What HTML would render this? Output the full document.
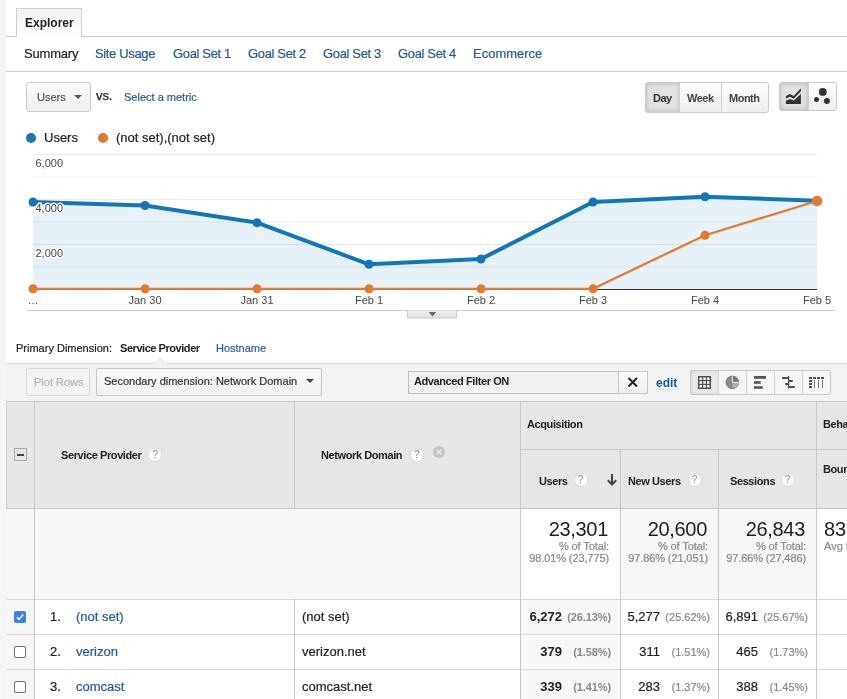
<!DOCTYPE html>
<html><head><meta charset="utf-8">
<style>
*{box-sizing:border-box;margin:0;padding:0}
html,body{width:847px;height:699px;overflow:hidden;background:#fff;-webkit-font-smoothing:antialiased;font-family:"Liberation Sans",sans-serif;color:#222}
.a{position:absolute;white-space:nowrap;-webkit-text-stroke:0.2px currentColor}
.strip{left:0;top:0;width:6px;height:699px;background:#f4f5f7}
.lnk{color:#1d5a9c}
.hl{height:1px;background:#cacaca}
.btn{border:1px solid #c8c8c8;border-radius:2px;background:#f7f7f7}
.q{position:absolute;width:14px;height:14px;border-radius:50%;background:#fff;border:1px solid #dadada;color:#8a8a8a;font-size:10px;line-height:12px;text-align:center}
</style></head><body>
<div style="position:absolute;left:0;top:0;width:847px;height:699px;will-change:transform">
<div class="a strip"></div>

<!-- Explorer tab -->
<div class="a" style="left:16px;top:8px;width:66px;height:29px;border:1px solid #cfcfcf;border-bottom:none;background:linear-gradient(#f2f2f2,#fff)"></div>
<div class="a hl" style="left:6px;top:36px;width:10px"></div>
<div class="a hl" style="left:82px;top:36px;width:765px"></div>
<div class="a" style="left:25px;top:15px;font-size:12px;font-weight:bold;-webkit-text-stroke:0;color:#222;line-height:16px">Explorer</div>

<!-- nav -->
<div class="a" style="left:24px;top:46px;font-size:13px;line-height:16px;color:#222;letter-spacing:-0.2px">Summary</div>
<div class="a lnk" style="left:95px;top:46px;font-size:13px;line-height:16px;letter-spacing:-0.35px">Site Usage</div>
<div class="a lnk" style="left:173px;top:46px;font-size:13px;line-height:16px;letter-spacing:-0.35px">Goal Set 1</div>
<div class="a lnk" style="left:248px;top:46px;font-size:13px;line-height:16px;letter-spacing:-0.35px">Goal Set 2</div>
<div class="a lnk" style="left:323px;top:46px;font-size:13px;line-height:16px;letter-spacing:-0.35px">Goal Set 3</div>
<div class="a lnk" style="left:398px;top:46px;font-size:13px;line-height:16px;letter-spacing:-0.35px">Goal Set 4</div>
<div class="a lnk" style="left:473px;top:46px;font-size:13px;line-height:16px">Ecommerce</div>
<div class="a hl" style="left:6px;top:71px;width:841px"></div>

<!-- metric selector -->
<div class="a btn" style="left:26px;top:82px;width:65px;height:30px;background:linear-gradient(#fbfbfb,#efefef);border-radius:3px;border-color:#cbcbcb"></div>
<div class="a" style="left:37px;top:90px;font-size:11px;line-height:14px;color:#555">Users</div>
<div class="a" style="left:74px;top:95px;width:0;height:0;border-left:4px solid transparent;border-right:4px solid transparent;border-top:4px solid #555"></div>
<div class="a" style="left:96px;top:88px;font-size:13px;line-height:16px;color:#222;-webkit-text-stroke:0.25px #222;letter-spacing:-0.1px">vs.</div>
<div class="a lnk" style="left:124px;top:90px;font-size:11px;line-height:14px">Select a metric</div>

<!-- Day/Week/Month -->
<div class="a btn" style="left:645px;top:82px;width:124px;height:31px;border-radius:3px;background:linear-gradient(#fdfdfd,#efefef)"></div>
<div class="a" style="left:646px;top:83px;width:34px;height:29px;background:#e2e2e2;box-shadow:inset 0 0 5px rgba(0,0,0,.22);border-radius:2px 0 0 2px"></div>
<div class="a" style="left:679px;top:83px;width:1px;height:29px;background:#d0d0d0"></div>
<div class="a" style="left:721px;top:83px;width:1px;height:29px;background:#d0d0d0"></div>
<div class="a" style="left:653px;top:91px;font-size:11px;line-height:14px;font-weight:bold;-webkit-text-stroke:0;color:#333;letter-spacing:-0.5px">Day</div>
<div class="a" style="left:687px;top:91px;font-size:11px;line-height:14px;font-weight:bold;-webkit-text-stroke:0;color:#444;letter-spacing:-0.5px">Week</div>
<div class="a" style="left:729px;top:91px;font-size:11px;line-height:14px;font-weight:bold;-webkit-text-stroke:0;color:#444;letter-spacing:-0.5px">Month</div>

<!-- chart type -->
<div class="a btn" style="left:779px;top:82px;width:58px;height:29px;border-radius:3px;background:linear-gradient(#fdfdfd,#efefef)"></div>
<div class="a" style="left:780px;top:83px;width:28px;height:27px;background:#e2e2e2;box-shadow:inset 0 0 5px rgba(0,0,0,.22);border-radius:2px 0 0 2px"></div>
<div class="a" style="left:808px;top:83px;width:1px;height:27px;background:#d0d0d0"></div>
<svg class="a" style="left:779px;top:82px" width="58" height="29" viewBox="0 0 58 29">
  <path d="M6.9 14 L11 12 L14.7 14 L21.9 6.2 L21.9 9.2 L14.7 16.8 L11 14.7 L6.9 16.6Z" fill="#333"/>
  <path d="M6.9 18.8 L11 17 L14.7 18.6 L21.9 12 L21.9 21.9 L6.9 21.9Z" fill="#333"/>
  <circle cx="43.8" cy="9.9" r="3.9" fill="#333"/>
  <circle cx="37.5" cy="17.5" r="2.5" fill="#333"/>
  <circle cx="47.9" cy="19" r="3" fill="#333"/>
</svg>

<!-- legend -->
<div class="a" style="left:26px;top:132.5px;width:10px;height:10px;border-radius:50%;background:#1077bb"></div>
<div class="a" style="left:44px;top:130px;font-size:13px;line-height:16px;color:#222">Users</div>
<div class="a" style="left:98px;top:132.5px;width:10px;height:10px;border-radius:50%;background:#e8762b"></div>
<div class="a" style="left:116px;top:130px;font-size:13px;line-height:16px;color:#222">(not set),(not set)</div>

<!-- chart -->
<svg class="a" style="left:0;top:140px" width="847" height="190" viewBox="0 140 847 190">

  <path d="M33 202 L145 205.5 L257 222.7 L369 264.3 L481 259 L593 202 L705 196.7 L817 200.8 L817 289.5 L33 289.5Z" fill="#e6f1f8"/>
  <g stroke="#000" stroke-opacity="0.075" stroke-width="1">
    <line x1="33" y1="154.5" x2="817" y2="154.5"/>
    <line x1="33" y1="177" x2="817" y2="177"/>
    <line x1="33" y1="199.5" x2="817" y2="199.5"/>
    <line x1="33" y1="222" x2="817" y2="222"/>
    <line x1="33" y1="244.5" x2="817" y2="244.5"/>
    <line x1="33" y1="267" x2="817" y2="267"/>
  </g>
  <line x1="33" y1="289.5" x2="817" y2="289.5" stroke="#333" stroke-width="1"/>
  <polyline points="33,202 145,205.5 257,222.7 369,264.3 481,259 593,202 705,196.7 817,200.8" fill="none" stroke="#1077bb" stroke-width="4" stroke-linejoin="round"/>
  <g fill="#1077bb">
    <circle cx="33" cy="202" r="4.5"/><circle cx="145" cy="205.5" r="4.5"/><circle cx="257" cy="222.7" r="4.5"/><circle cx="369" cy="264.3" r="4.5"/><circle cx="481" cy="259" r="4.5"/><circle cx="593" cy="202" r="4.5"/><circle cx="705" cy="196.7" r="4.5"/>
  </g>
  <polyline points="33,288.8 145,288.8 257,288.8 369,288.8 481,288.8 593,288.8 705,235.2 817,201" fill="none" stroke="#e8762b" stroke-width="2.2" stroke-linejoin="round"/>
  <g fill="#e8762b">
    <circle cx="33" cy="288.8" r="4.5"/><circle cx="145" cy="288.8" r="4.5"/><circle cx="257" cy="288.8" r="4.5"/><circle cx="369" cy="288.8" r="4.5"/><circle cx="481" cy="288.8" r="4.5"/><circle cx="593" cy="288.8" r="4.5"/><circle cx="705" cy="235.2" r="4.5"/><circle cx="817" cy="201" r="5" stroke="#c07a45" stroke-width="0.6"/>
  </g>
  <g font-family="Liberation Sans" font-size="11" fill="#444" stroke="#fff" stroke-width="3" paint-order="stroke">
    <text x="35.5" y="167">6,000</text>
    <text x="35.5" y="212">4,000</text>
    <text x="35.5" y="257">2,000</text>
  </g>
  <g font-family="Liberation Sans" font-size="11" fill="#444" text-anchor="middle">
    <text x="33" y="304">…</text>
    <text x="145" y="304">Jan 30</text>
    <text x="257" y="304">Jan 31</text>
    <text x="369" y="304">Feb 1</text>
    <text x="481" y="304">Feb 2</text>
    <text x="593" y="304">Feb 3</text>
    <text x="705" y="304">Feb 4</text>
    <text x="817" y="304">Feb 5</text>
  </g>
  <line x1="27" y1="310.5" x2="835" y2="310.5" stroke="#cfcfcf"/>
  <defs><linearGradient id="tg" x1="0" y1="0" x2="0" y2="1"><stop offset="0" stop-color="#f0f0f0"/><stop offset="1" stop-color="#dedede"/></linearGradient></defs><path d="M407.5 310.5 L407.5 318 L456.5 318 L456.5 310.5" fill="url(#tg)" stroke="#c8c8c8"/>
  <path d="M428.7 312 L436.3 312 L432.5 316.5Z" fill="#666"/>
</svg>


<!-- primary dimension -->
<div class="a" style="left:16px;top:341px;font-size:11px;line-height:14px;color:#222">Primary Dimension:</div>
<div class="a" style="left:120px;top:341px;font-size:11px;line-height:14px;color:#222;font-weight:bold;-webkit-text-stroke:0;letter-spacing:-0.45px">Service Provider</div>
<div class="a lnk" style="left:216px;top:341px;font-size:11px;line-height:14px;color:#2a5db0">Hostname</div>

<!-- toolbar -->
<div class="a" style="left:6px;top:363px;width:841px;height:38px;background:#f3f3f3;border-top:1px solid #dcdcdc"></div>
<svg class="a" style="left:150px;top:356px" width="22" height="10" viewBox="0 0 22 10">
  <path d="M0 7.5 L4.8 7.5 L10.3 2 L15.8 7.5 L22 7.5 L22 10 L0 10Z" fill="#f3f3f3"/>
  <path d="M0 7.5 L4.8 7.5 L10.3 2 L15.8 7.5 L22 7.5" fill="none" stroke="#dcdcdc" stroke-width="1"/>
</svg>
<div class="a btn" style="left:26px;top:368px;width:64px;height:28px;background:#f3f3f3;border-color:#dadada"></div>
<div class="a" style="left:34px;top:375px;font-size:11px;line-height:14px;color:#b5b5b5">Plot Rows</div>
<div class="a btn" style="left:96px;top:368px;width:226px;height:28px;background:linear-gradient(#fbfbfb,#f1f1f1);border-color:#c6c6c6"></div>
<div class="a" style="left:104px;top:374px;font-size:11px;line-height:14px;color:#333">Secondary dimension: Network Domain</div>
<div class="a" style="left:306px;top:379px;width:0;height:0;border-left:4px solid transparent;border-right:4px solid transparent;border-top:4px solid #444"></div>

<div class="a" style="left:408px;top:371px;width:211px;height:23px;border:1px solid #bdbdbd;background:#f1f1f1"></div>
<div class="a" style="left:414px;top:374px;font-size:11px;line-height:14px;color:#222;font-weight:bold;-webkit-text-stroke:0;letter-spacing:-0.4px">Advanced Filter ON</div>
<div class="a" style="left:618px;top:371px;width:30px;height:23px;border:1px solid #c6c6c6;background:linear-gradient(#fafafa,#eee)"></div>
<svg class="a" style="left:618px;top:371px" width="30" height="23" viewBox="0 0 30 23"><path d="M10.5 7 L19 15.5 M19 7 L10.5 15.5" stroke="#222" stroke-width="2"/></svg>
<div class="a" style="left:656px;top:376px;font-size:12px;line-height:14px;color:#1a5a9e;font-weight:bold;-webkit-text-stroke:0">edit</div>

<div class="a btn" style="left:690px;top:370px;width:141px;height:25px;background:#f6f6f6"></div>
<div class="a" style="left:691px;top:371px;width:28px;height:23px;background:#e9e9e9;box-shadow:inset 0 0 3px rgba(0,0,0,.15)"></div>
<div class="a" style="left:718px;top:371px;width:1px;height:23px;background:#d2d2d2"></div>
<div class="a" style="left:746px;top:371px;width:1px;height:23px;background:#d2d2d2"></div>
<div class="a" style="left:774px;top:371px;width:1px;height:23px;background:#d2d2d2"></div>
<div class="a" style="left:802px;top:371px;width:1px;height:23px;background:#d2d2d2"></div>
<svg class="a" style="left:690px;top:370px" width="141" height="25" viewBox="0 0 141 25">
  <rect x="8" y="6" width="13" height="13" fill="#505050"/>
  <g fill="#fff">
    <rect x="9.5" y="7.5" width="2.5" height="2.5"/><rect x="13.25" y="7.5" width="2.5" height="2.5"/><rect x="17" y="7.5" width="2.5" height="2.5"/>
    <rect x="9.5" y="11.25" width="2.5" height="2.5"/><rect x="13.25" y="11.25" width="2.5" height="2.5"/><rect x="17" y="11.25" width="2.5" height="2.5"/>
    <rect x="9.5" y="15" width="2.5" height="2.5"/><rect x="13.25" y="15" width="2.5" height="2.5"/><rect x="17" y="15" width="2.5" height="2.5"/>
  </g>
  <circle cx="42.4" cy="12.4" r="6.3" fill="#8a8a8a" stroke="#666" stroke-width="0.8"/>
  <path d="M42.4 6.1 A6.3 6.3 0 0 1 48.7 12.4 L42.4 12.4Z" fill="#767676"/>
  <path d="M48.7 12.4 A6.3 6.3 0 0 1 42.4 18.7 L42.4 12.4Z" fill="#adadad"/>
  <path d="M42.4 6.1 L42.4 12.4 L48.7 12.4" stroke="#f2f2f2" stroke-width="1" fill="none"/>
  <g fill="#555">
    <rect x="64" y="6" width="12" height="2.8"/><rect x="64" y="11.2" width="6.7" height="2.6"/><rect x="64" y="16.2" width="8.8" height="2.6"/>
  </g>
  <g fill="#505050">
    <rect x="98" y="6" width="1.2" height="12.7"/>
    <rect x="92.1" y="7" width="6" height="2"/><rect x="99" y="10" width="3.7" height="2"/><rect x="95.1" y="13" width="3" height="2"/><rect x="99" y="16" width="5.9" height="2"/>
  </g>
  <g fill="#505050">
    <rect x="119" y="7" width="3" height="2"/><rect x="123" y="7" width="3" height="2"/><rect x="127" y="7" width="3" height="2"/><rect x="131" y="7" width="3" height="2"/>
    <rect x="119" y="10" width="3" height="2"/><rect x="119" y="13" width="3" height="2"/><rect x="119" y="16" width="3" height="2"/>
  </g>
  <g fill="#777">
    <rect x="124" y="10" width="1" height="8"/><rect x="128" y="10" width="1" height="8"/><rect x="132" y="10" width="1" height="8"/>
  </g>
</svg>

<!-- table header -->
<div class="a" style="left:6px;top:401px;width:841px;height:108px;background:#e6e6e6;border-top:1px solid #c6c6c6;border-bottom:1px solid #c6c6c6"></div>
<!-- totals row -->
<div class="a" style="left:6px;top:509px;width:841px;height:90px;background:#f7f7f7"></div>
<div class="a" style="left:521px;top:509px;width:99px;height:90px;background:#fff"></div>
<div class="a" style="left:817px;top:509px;width:30px;height:90px;background:#fff"></div>
<!-- data rows -->
<div class="a" style="left:34px;top:599px;width:813px;height:100px;background:#fff"></div>
<div class="a" style="left:521px;top:599px;width:99px;height:100px;background:#f8f8f8"></div>
<div class="a" style="left:6px;top:599px;width:28px;height:100px;background:#f7f7f7"></div>
<div class="a hl" style="left:6px;top:599px;width:841px;background:#d9d9d9"></div>
<div class="a hl" style="left:6px;top:634px;width:841px;background:#d9d9d9"></div>
<div class="a hl" style="left:6px;top:669px;width:841px;background:#d9d9d9"></div>

<!-- vertical lines -->
<div class="a" style="left:6px;top:401px;width:1px;height:108px;background:#cfcfcf"></div>
<div class="a" style="left:34px;top:401px;width:1px;height:298px;background:#c8c8c8"></div>
<div class="a" style="left:294px;top:401px;width:1px;height:108px;background:#c8c8c8"></div>
<div class="a" style="left:294px;top:599px;width:1px;height:100px;background:#c8c8c8"></div>
<div class="a" style="left:520px;top:401px;width:1px;height:298px;background:#c8c8c8"></div>
<div class="a" style="left:620px;top:449px;width:1px;height:250px;background:#c8c8c8"></div>
<div class="a" style="left:718px;top:449px;width:1px;height:250px;background:#c8c8c8"></div>
<div class="a" style="left:816px;top:401px;width:1px;height:298px;background:#c8c8c8"></div>
<div class="a" style="left:520px;top:449px;width:327px;height:1px;background:#c8c8c8"></div>

<!-- header text -->
<div class="a" style="left:14px;top:448px;width:13px;height:13px;border:1px solid #aaa;background:#e6e6e6"></div>
<div class="a" style="left:17px;top:454px;width:7px;height:2px;background:#444"></div>
<div class="a" style="left:61px;top:448px;font-size:11px;line-height:14px;font-weight:bold;-webkit-text-stroke:0;color:#222;letter-spacing:-0.4px">Service Provider</div>
<div class="q" style="left:148.2px;top:448px">?</div>
<div class="a" style="left:321px;top:448px;font-size:11px;line-height:14px;font-weight:bold;-webkit-text-stroke:0;color:#222;letter-spacing:-0.4px">Network Domain</div>
<div class="q" style="left:409.8px;top:447.5px">?</div>
<svg class="a" style="left:432px;top:445px" width="14" height="14" viewBox="0 0 14 14"><circle cx="7" cy="7" r="6" fill="#c4c4c4"/><path d="M4.5 4.5 L9.5 9.5 M9.5 4.5 L4.5 9.5" stroke="#f0f0f0" stroke-width="1.3"/></svg>
<div class="a" style="left:527px;top:417px;font-size:11px;line-height:14px;font-weight:bold;-webkit-text-stroke:0;color:#222;letter-spacing:-0.4px">Acquisition</div>
<div class="a" style="left:823px;top:417px;font-size:11px;line-height:14px;font-weight:bold;-webkit-text-stroke:0;color:#222;letter-spacing:-0.4px">Behavior</div>
<div class="a" style="left:539px;top:474px;font-size:11px;line-height:14px;font-weight:bold;-webkit-text-stroke:0;color:#222;letter-spacing:-0.4px">Users</div>
<div class="q" style="left:573.5px;top:473.3px">?</div>
<svg class="a" style="left:606px;top:473px" width="12" height="14" viewBox="0 0 12 14"><path d="M6 1 L6 11.5 M1.8 7.3 L6 11.5 L10.2 7.3" stroke="#444" stroke-width="2" fill="none"/></svg>
<div class="a" style="left:628px;top:474px;font-size:11px;line-height:14px;font-weight:bold;-webkit-text-stroke:0;color:#222;letter-spacing:-0.4px">New Users</div>
<div class="q" style="left:687.6px;top:473.3px">?</div>
<div class="a" style="left:730px;top:474px;font-size:11px;line-height:14px;font-weight:bold;-webkit-text-stroke:0;color:#222;letter-spacing:-0.4px">Sessions</div>
<div class="q" style="left:780.6px;top:473.3px">?</div>
<div class="a" style="left:823px;top:462px;font-size:11px;line-height:14px;font-weight:bold;-webkit-text-stroke:0;color:#222;letter-spacing:-0.4px">Bounce</div>

<!-- totals -->
<div class="a" style="left:520px;top:517px;width:88px;text-align:right;font-size:20px;line-height:24px;color:#222;letter-spacing:-0.3px;-webkit-text-stroke:0">23,301</div>
<div class="a" style="left:520px;top:540px;width:89px;text-align:right;font-size:11px;line-height:12px;color:#888;letter-spacing:-0.1px">% of Total:</div>
<div class="a" style="left:500px;top:552px;width:109px;text-align:right;font-size:11px;line-height:12px;color:#888;letter-spacing:-0.1px">98.01% (23,775)</div>
<div class="a" style="left:620px;top:517px;width:87px;text-align:right;font-size:20px;line-height:24px;color:#222;letter-spacing:-0.3px;-webkit-text-stroke:0">20,600</div>
<div class="a" style="left:620px;top:540px;width:88px;text-align:right;font-size:11px;line-height:12px;color:#888;letter-spacing:-0.1px">% of Total:</div>
<div class="a" style="left:600px;top:552px;width:108px;text-align:right;font-size:11px;line-height:12px;color:#888;letter-spacing:-0.1px">97.86% (21,051)</div>
<div class="a" style="left:718px;top:517px;width:87px;text-align:right;font-size:20px;line-height:24px;color:#222;letter-spacing:-0.3px;-webkit-text-stroke:0">26,843</div>
<div class="a" style="left:718px;top:540px;width:88px;text-align:right;font-size:11px;line-height:12px;color:#888;letter-spacing:-0.1px">% of Total:</div>
<div class="a" style="left:698px;top:552px;width:108px;text-align:right;font-size:11px;line-height:12px;color:#888;letter-spacing:-0.1px">97.66% (27,486)</div>
<div class="a" style="left:824px;top:517px;font-size:20px;line-height:24px;color:#222;-webkit-text-stroke:0">83</div>
<div class="a" style="left:824px;top:540px;font-size:11px;line-height:12px;color:#888">Avg for</div>

<!-- rows -->
<svg class="a" style="left:14px;top:611px" width="12" height="12" viewBox="0 0 12 12"><rect x="0" y="0" width="12" height="12" rx="2" fill="#3b7ff0"/><path d="M2.8 6.2 L5 8.4 L9.2 3.6" stroke="#fff" stroke-width="1.5" fill="none"/></svg>
<div class="a" style="left:14px;top:646px;width:12px;height:12px;border:1.5px solid #6f6f6f;border-radius:2px;background:#fff"></div>
<div class="a" style="left:14px;top:681px;width:12px;height:12px;border:1.5px solid #6f6f6f;border-radius:2px;background:#fff"></div>

<div class="a" style="left:50px;top:609px;font-size:13px;line-height:16px;color:#222">1.</div>
<div class="a lnk" style="left:76px;top:609px;font-size:13px;line-height:16px">(not set)</div>
<div class="a" style="left:302px;top:609px;font-size:13px;line-height:16px;color:#222">(not set)</div>
<div class="a" style="left:50px;top:644px;font-size:13px;line-height:16px;color:#222">2.</div>
<div class="a lnk" style="left:76px;top:644px;font-size:13px;line-height:16px">verizon</div>
<div class="a" style="left:302px;top:644px;font-size:13px;line-height:16px;color:#222">verizon.net</div>
<div class="a" style="left:50px;top:679px;font-size:13px;line-height:16px;color:#222">3.</div>
<div class="a lnk" style="left:76px;top:679px;font-size:13px;line-height:16px">comcast</div>
<div class="a" style="left:302px;top:679px;font-size:13px;line-height:16px;color:#222">comcast.net</div>

<div class="a" style="left:500px;top:609px;width:62px;text-align:right;font-size:13px;line-height:16px;color:#222;font-weight:bold;-webkit-text-stroke:0">6,272</div>
<div class="a" style="left:559px;top:610px;width:52px;text-align:right;font-size:11px;line-height:14px;color:#888;font-weight:bold;-webkit-text-stroke:0;letter-spacing:-0.1px">(26.13%)</div>
<div class="a" style="left:500px;top:644px;width:62px;text-align:right;font-size:13px;line-height:16px;color:#222;font-weight:bold;-webkit-text-stroke:0">379</div>
<div class="a" style="left:559px;top:645px;width:52px;text-align:right;font-size:11px;line-height:14px;color:#888;font-weight:bold;-webkit-text-stroke:0;letter-spacing:-0.1px">(1.58%)</div>
<div class="a" style="left:500px;top:679px;width:62px;text-align:right;font-size:13px;line-height:16px;color:#222;font-weight:bold;-webkit-text-stroke:0">339</div>
<div class="a" style="left:559px;top:680px;width:52px;text-align:right;font-size:11px;line-height:14px;color:#888;font-weight:bold;-webkit-text-stroke:0;letter-spacing:-0.1px">(1.41%)</div>

<div class="a" style="left:600px;top:609px;width:60px;text-align:right;font-size:13px;line-height:16px;color:#222">5,277</div>
<div class="a" style="left:658px;top:610px;width:52px;text-align:right;font-size:11px;line-height:14px;color:#888">(25.62%)</div>
<div class="a" style="left:600px;top:644px;width:60px;text-align:right;font-size:13px;line-height:16px;color:#222">311</div>
<div class="a" style="left:658px;top:645px;width:52px;text-align:right;font-size:11px;line-height:14px;color:#888">(1.51%)</div>
<div class="a" style="left:600px;top:679px;width:60px;text-align:right;font-size:13px;line-height:16px;color:#222">283</div>
<div class="a" style="left:658px;top:680px;width:52px;text-align:right;font-size:11px;line-height:14px;color:#888">(1.37%)</div>

<div class="a" style="left:698px;top:609px;width:60px;text-align:right;font-size:13px;line-height:16px;color:#222">6,891</div>
<div class="a" style="left:756px;top:610px;width:52px;text-align:right;font-size:11px;line-height:14px;color:#888">(25.67%)</div>
<div class="a" style="left:698px;top:644px;width:60px;text-align:right;font-size:13px;line-height:16px;color:#222">465</div>
<div class="a" style="left:756px;top:645px;width:52px;text-align:right;font-size:11px;line-height:14px;color:#888">(1.73%)</div>
<div class="a" style="left:698px;top:679px;width:60px;text-align:right;font-size:13px;line-height:16px;color:#222">388</div>
<div class="a" style="left:756px;top:680px;width:52px;text-align:right;font-size:11px;line-height:14px;color:#888">(1.45%)</div>

</div>
</body></html>
